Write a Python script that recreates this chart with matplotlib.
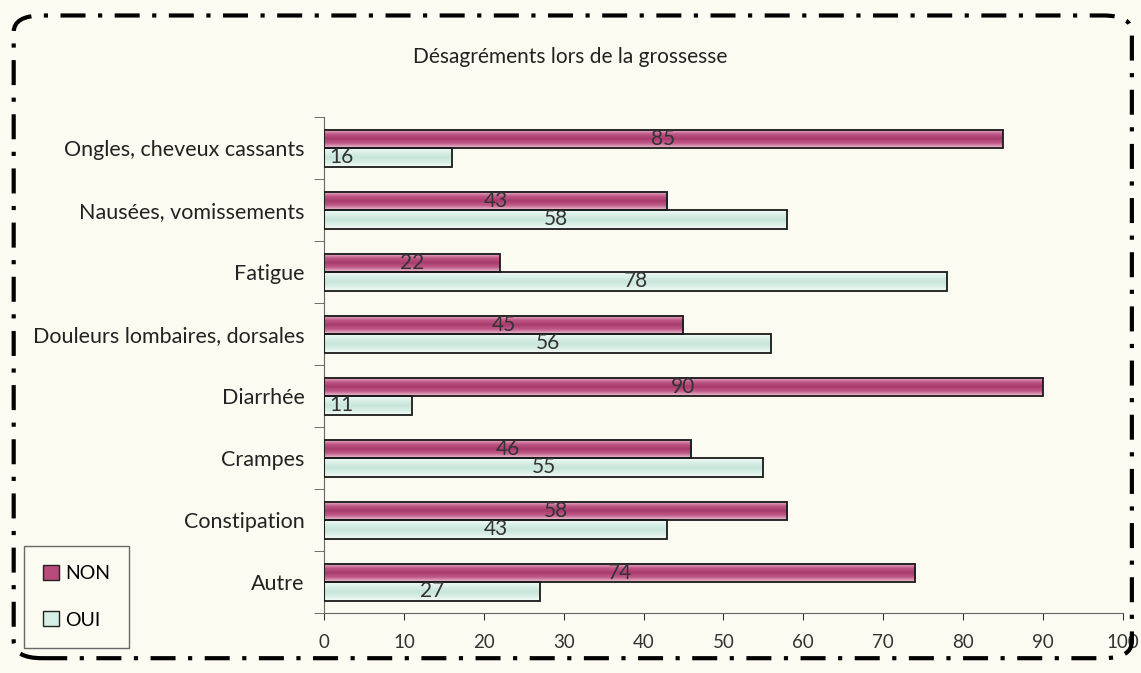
import numpy as np
import matplotlib.pyplot as plt
from matplotlib.patches import FancyBboxPatch, Patch
from matplotlib.colors import LinearSegmentedColormap

# data (top to bottom)
categories = ['Ongles, cheveux cassants', 'Nausées, vomissements', 'Fatigue',
              'Douleurs lombaires, dorsales', 'Diarrhée', 'Crampes',
              'Constipation', 'Autre']
non_vals = [85, 43, 22, 45, 90, 46, 58, 74]
oui_vals = [16, 58, 78, 56, 11, 55, 43, 27]
title = 'Désagréments lors de la grossesse'

plt.rcParams['font.family'] = ['Lato', 'DejaVu Sans']
bg = '#fcfbf1'

fig = plt.figure(figsize=(11.41, 6.73), dpi=100, facecolor=bg)
ax = fig.add_axes([0.284, 0.089, 0.700, 0.737])
ax.set_facecolor('none')

n = len(categories)
ypos = np.arange(n)[::-1]  # first category on top
h = 0.30

cmap_non = LinearSegmentedColormap.from_list('non', ['#ecc6d3', '#c05a88', '#a83a6c', '#c05a88', '#ecc6d3'])
cmap_oui = LinearSegmentedColormap.from_list('oui', ['#f6fcf8', '#d8efe6', '#c8e6da', '#d8efe6', '#f2faf6'])

bars_non = ax.barh(ypos + h / 2, non_vals, height=h, color='none', edgecolor='#1a1a1a', linewidth=1.3, zorder=3)
bars_oui = ax.barh(ypos - h / 2, oui_vals, height=h, color='none', edgecolor='#1a1a1a', linewidth=1.3, zorder=3)

grad = np.linspace(0, 1, 64).reshape(-1, 1)
for bars, cm in [(bars_non, cmap_non), (bars_oui, cmap_oui)]:
    for b in bars:
        x0, y0, w, hh = b.get_x(), b.get_y(), b.get_width(), b.get_height()
        ax.imshow(grad, extent=[x0, x0 + w, y0, y0 + hh], cmap=cm, aspect='auto', zorder=2, origin='lower')

# value labels
for bars, vals in [(bars_non, non_vals), (bars_oui, oui_vals)]:
    for b, v in zip(bars, vals):
        yc = b.get_y() + b.get_height() / 2
        if v < 20:
            ax.text(0.6, yc, str(v), ha='left', va='center', fontsize=15, color='#333333', zorder=4)
        else:
            ax.text(v / 2, yc, str(v), ha='center', va='center', fontsize=15, color='#333333', zorder=4)

ax.set_xlim(0, 100)
ax.set_ylim(-0.5, n - 0.5)
ax.set_xticks(np.arange(0, 101, 10))
ax.tick_params(axis='x', labelsize=13.5, colors='#333333', length=5, pad=10)
ax.set_yticks(ypos)
ax.set_yticklabels(categories, fontsize=15.5, color='#222222')
ax.tick_params(axis='y', length=0, pad=14)
# category boundary ticks
ax.set_yticks(np.arange(-0.5, n, 1), minor=True)
ax.tick_params(axis='y', which='minor', length=7, color='#555555')
for s in ['top', 'right']:
    ax.spines[s].set_visible(False)
for s in ['left', 'bottom']:
    ax.spines[s].set_color('#666666')

fig.text(0.5, 0.915, title, ha='center', va='center', fontsize=15, color='#222222')

handles = [Patch(facecolor='#b84a7c', edgecolor='#222222', label='NON'),
           Patch(facecolor='#d6eee5', edgecolor='#222222', label='OUI')]
fig.legend(handles=handles, loc='lower left', bbox_to_anchor=(0.021, 0.037), fontsize=14,
           frameon=True, fancybox=False, edgecolor='#444444', facecolor=bg,
           handlelength=0.8, handleheight=0.8, handletextpad=0.3, labelspacing=1.5,
           borderpad=1.0, borderaxespad=0)

border = FancyBboxPatch((0.012, 0.022), 0.98, 0.955, boxstyle='round,pad=0,rounding_size=0.025',
                        transform=fig.transFigure, fill=False, edgecolor='black', linewidth=3,
                        linestyle=(0, (6, 3, 1, 3)))
fig.add_artist(border)

fig.savefig('out.png', dpi=100, facecolor=bg)
